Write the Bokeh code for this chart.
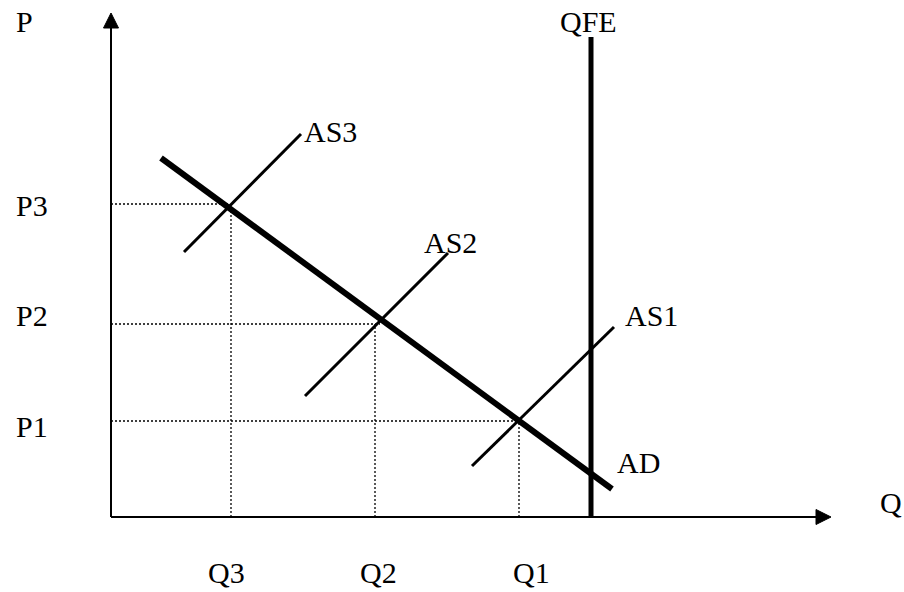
from bokeh.plotting import figure
from bokeh.models import Range1d, Arrow, NormalHead
from bokeh.core.properties import value
from bokeh.embed import file_html
from bokeh.resources import INLINE

# ---- data (abstract Q / P units, origin at axes crossing) ----
q_axis_end = 720
p_axis_end = 504

ad_q = [50, 501]
ad_p = [359, 28]

as_names = ["AS3", "AS2", "AS1"]
as_q0 = [73, 194, 361]
as_p0 = [265, 121, 51]
as_q1 = [190, 337, 503]
as_p1 = [383, 264, 190]

qfe_q = 480
qfe_top = 480

eq_q = [120, 264, 408]   # Q3, Q2, Q1
eq_p = [313, 193, 96]    # P3, P2, P1
eq_qx = [117, 269, 407]  # where the horizontal guides stop

p_labels = ["P", "P3", "P2", "P1"]
p_label_q = [-95, -95, -95, -95]
p_label_p = [496, 312, 202, 91]

q_labels = ["Q3", "Q2", "Q1", "Q"]
q_label_q = [97, 249, 402, 769]
q_label_p = [-55, -55, -55, 15]

curve_labels = ["QFE", "AS3", "AS2", "AS1", "AD"]
curve_label_q = [449, 193, 313, 514, 506]
curve_label_p = [496, 386, 275, 202, 55]

FONT = value("Liberation Serif")
FS = value("30px")

p = figure(width=904, height=592, output_backend="svg", toolbar_location=None,
           x_range=Range1d(-110.5, 793.5), y_range=Range1d(-75.5, 516.5),
           min_border=0, outline_line_color=None)
p.axis.visible = False
p.grid.visible = False
p.background_fill_color = "white"

# axes with arrow heads
for xe, ye in [(0, p_axis_end), (q_axis_end, 0)]:
    p.add_layout(Arrow(end=NormalHead(size=15, fill_color="black", line_color="black"),
                       x_start=0, y_start=0, x_end=xe, y_end=ye,
                       line_width=2, line_color="black"))

# dotted guide lines
n = len(eq_p)
p.segment(x0=[0] * n, y0=eq_p, x1=eq_qx, y1=eq_p, line_color="black",
          line_width=1.3, line_dash="2 2")
p.segment(x0=eq_q, y0=[0] * n, x1=eq_q, y1=eq_p, line_color="black",
          line_width=1.3, line_dash="2 2")

# QFE
p.segment(x0=[qfe_q], y0=[0], x1=[qfe_q], y1=[qfe_top], line_color="black", line_width=5)

# AS curves
p.segment(x0=as_q0, y0=as_p0, x1=as_q1, y1=as_p1, line_color="black", line_width=3)

# AD
p.line(ad_q, ad_p, line_color="black", line_width=6)

# labels
for xs, ys, ts in [(p_label_q, p_label_p, p_labels),
                   (q_label_q, q_label_p, q_labels),
                   (curve_label_q, curve_label_p, curve_labels)]:
    p.text(x=xs, y=ys, text=ts, text_font=FONT, text_font_size=FS,
           text_baseline="alphabetic", text_align="left", text_color="black")

open("out.html", "w").write(file_html(p, INLINE))
